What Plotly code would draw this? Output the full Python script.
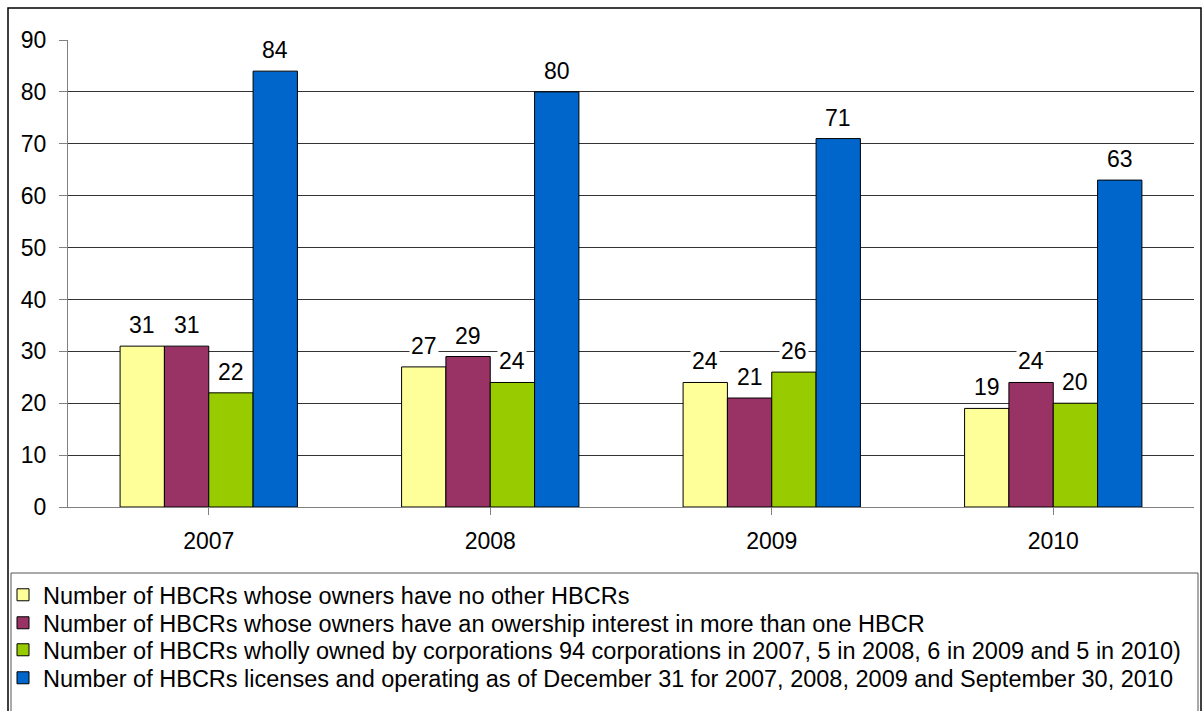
import plotly.graph_objects as go

years = ["2007", "2008", "2009", "2010"]
no_other = [31, 27, 24, 19]
more_than_one = [31, 29, 21, 24]
corporations = [22, 24, 26, 20]
licensed = [84, 80, 71, 63]

names = [
    "Number of HBCRs whose owners have no other HBCRs",
    "Number of HBCRs whose owners have an owership interest in more than one HBCR",
    "Number of HBCRs wholly owned by corporations 94 corporations in 2007, 5 in 2008, 6 in 2009 and 5 in 2010)",
    "Number of HBCRs licenses and operating as of December 31 for 2007, 2008, 2009 and September 30, 2010",
]
colors = ["#FFFF99", "#993366", "#99CC00", "#0066CC"]
series = [no_other, more_than_one, corporations, licensed]

FONT = "Liberation Sans, Arial, sans-serif"
FS = 23
LFS = 23.5
bargap = 0.37
w = (1 - bargap) / 4

W, H = 1202, 711
L, R, T, B = 68, 8, 40, 204
pw, ph = W - L - R, H - T - B

def px(xp):
    return (xp - L) / pw

def py(yp):
    return (H - B - yp) / ph

legend_ids = ["legend", "legend2", "legend3", "legend4"]
row_centers = [595, 623, 650, 678]

fig = go.Figure()
for j, (nm, col, vals) in enumerate(zip(names, colors, series)):
    fig.add_trace(go.Bar(
        x=list(range(len(years))), y=vals, name=nm,
        marker=dict(color=col, line=dict(color="#000000", width=1)),
        legend=legend_ids[j],
    ))

annotations = []
for j, vals in enumerate(series):
    for i, v in enumerate(vals):
        annotations.append(dict(
            x=i + (j - 1.5) * w, y=v, xref="x", yref="y",
            text=str(v), showarrow=False, yanchor="bottom", yshift=6,
            bgcolor="white", borderpad=1,
            font=dict(family=FONT, size=FS, color="#000"),
        ))

shapes = [
    dict(type="rect", xref="paper", yref="paper",
         x0=px(8), x1=px(1201), y0=py(8), y1=py(720),
         line=dict(color="#000", width=1.5), fillcolor="rgba(0,0,0,0)", layer="below"),
    dict(type="rect", xref="paper", yref="paper",
         x0=px(11), x1=px(1198), y0=py(573), y1=py(716),
         line=dict(color="#555", width=1), fillcolor="rgba(0,0,0,0)", layer="below"),
]

legend_layout = {}
for lid, yc in zip(legend_ids, row_centers):
    legend_layout[lid] = dict(
        x=px(3), y=py(yc), xanchor="left", yanchor="middle",
        orientation="v", bgcolor="rgba(0,0,0,0)", borderwidth=0,
        font=dict(family=FONT, size=LFS, color="#000"),
        itemclick=False, itemdoubleclick=False,
    )

fig.update_layout(
    width=W, height=H,
    margin=dict(l=L, r=R, t=T, b=B, autoexpand=False),
    paper_bgcolor="white", plot_bgcolor="white",
    barmode="group", bargap=bargap, bargroupgap=0,
    font=dict(family=FONT, size=FS, color="#000"),
    showlegend=True,
    xaxis=dict(
        tickmode="array", tickvals=list(range(len(years))), ticktext=years,
        range=[-0.5, len(years) - 0.5],
        showline=True, linecolor="#808080", linewidth=1,
        ticks="outside", ticklen=7, tickcolor="#808080", tickson="boundaries",
        showgrid=False, tickfont=dict(size=FS), zeroline=False,
        ticklabelstandoff=6,
    ),
    yaxis=dict(
        range=[0, 90], dtick=10,
        showline=True, linecolor="#808080", linewidth=1,
        ticks="outside", ticklen=8, tickcolor="#808080",
        showgrid=True, gridcolor="#333333", gridwidth=1,
        zeroline=False, tickfont=dict(size=FS),
        ticklabelstandoff=8,
    ),
    annotations=annotations,
    shapes=shapes,
    **legend_layout,
)

fig.write_html("out.html")
